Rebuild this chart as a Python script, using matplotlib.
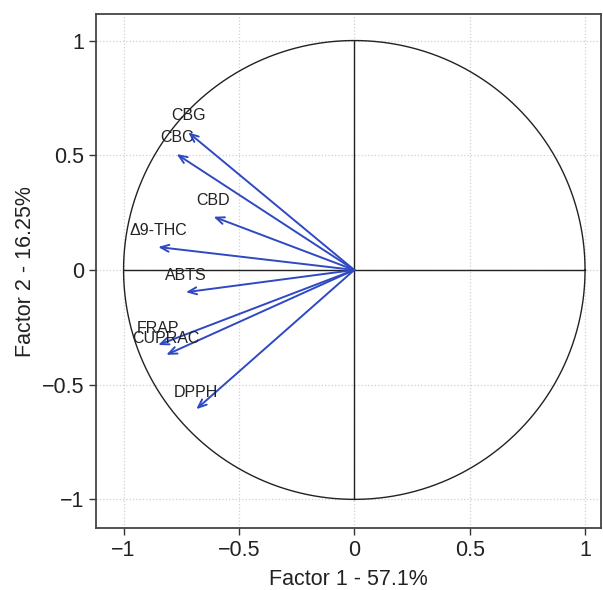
import numpy as np
import matplotlib.pyplot as plt

plt.rcParams["font.family"] = ["Liberation Sans", "DejaVu Sans"]

variables = ["CBG", "CBC", "CBD", "Δ9-THC", "ABTS", "FRAP", "CUPRAC", "DPPH"]
factor1 = [-0.72, -0.77, -0.61, -0.85, -0.73, -0.85, -0.815, -0.685]
factor2 = [0.60, 0.505, 0.232, 0.10, -0.097, -0.327, -0.37, -0.607]
ticks = [-1, -0.5, 0, 0.5, 1]
tick_labels = ["\u22121", "\u22120.5", "0", "0.5", "1"]

fig = plt.figure(figsize=(6.03, 5.90), dpi=100)
ax = fig.add_axes([0.159, 0.105, 0.838, 0.871])

ax.grid(True, color="#d0d0d0", linestyle=":", linewidth=0.9)
ax.set_axisbelow(True)

theta = np.linspace(0, 2 * np.pi, 400)
ax.plot(np.cos(theta), np.sin(theta), color="#222222", linewidth=1.0)
ax.plot([-1, 1], [0, 0], color="#222222", linewidth=1.0)
ax.plot([0, 0], [-1, 1], color="#222222", linewidth=1.0)

blue = "#2e49c2"
for name, x, y in zip(variables, factor1, factor2):
    ax.annotate("", xy=(x, y), xytext=(0, 0),
                arrowprops=dict(arrowstyle="->,head_length=0.6,head_width=0.25",
                                color=blue, linewidth=1.4, shrinkA=0, shrinkB=0))
    ax.text(x, y + 0.072, name, ha="center", va="center", fontsize=11.5, color="#222222")

ax.set_xlim(-1.12, 1.07)
ax.set_ylim(-1.125, 1.115)
ax.set_xticks(ticks)
ax.set_xticklabels(tick_labels)
ax.set_yticks(ticks)
ax.set_yticklabels(tick_labels)
ax.tick_params(labelsize=15.5, length=5, width=1.0, color="#333333", labelcolor="#222222")
for s in ax.spines.values():
    s.set_color("#444444")
    s.set_linewidth(1.3)

ax.set_xlabel("Factor 1 - 57.1%", fontsize=15.5, color="#222222", labelpad=6)
ax.set_ylabel("Factor 2 - 16.25%", fontsize=15.5, color="#222222", labelpad=4)

fig.savefig("out.png", dpi=100)
